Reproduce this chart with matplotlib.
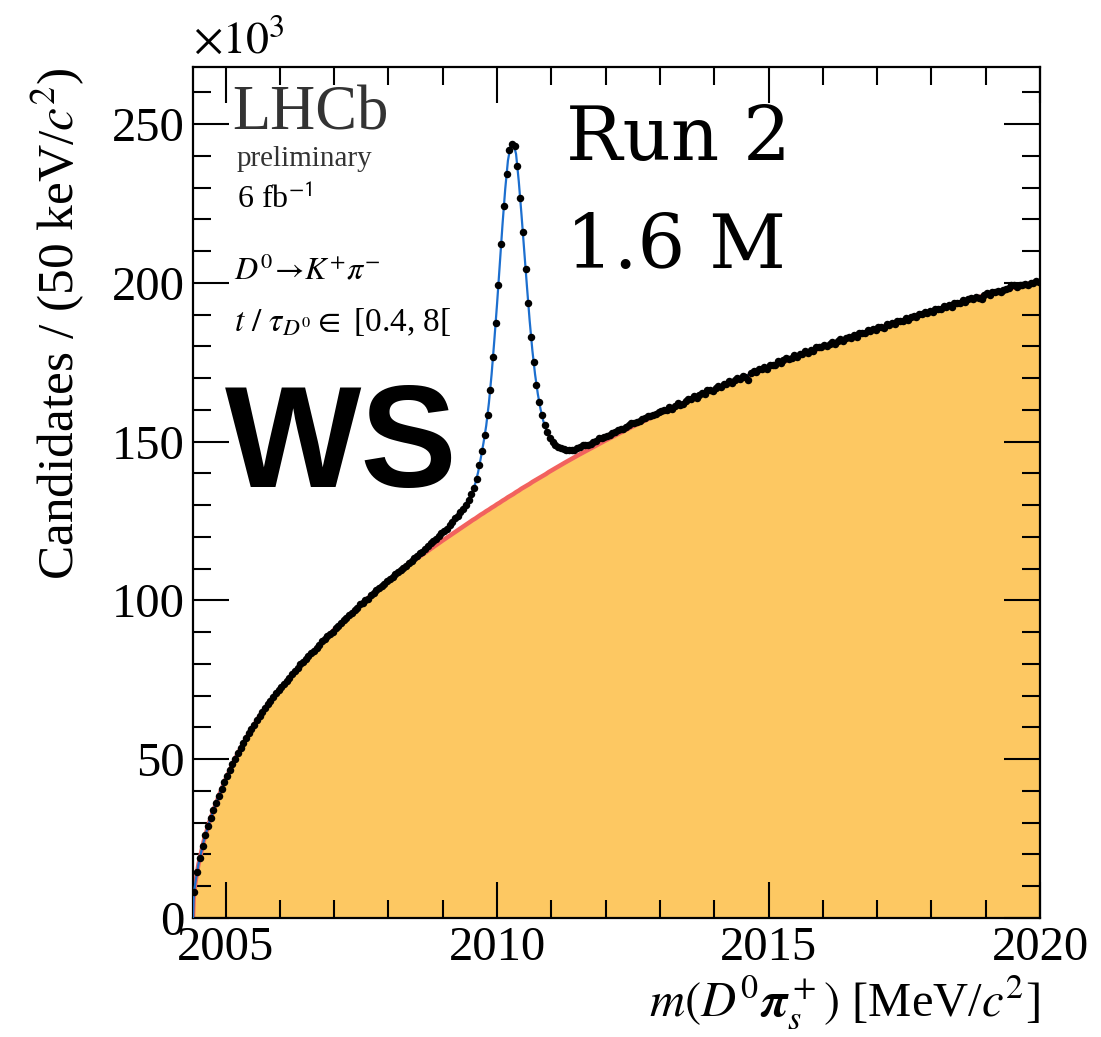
import numpy as np
import matplotlib
matplotlib.use("Agg")
import matplotlib.pyplot as plt
from matplotlib.ticker import MultipleLocator

plt.rcParams['font.family'] = ['Liberation Serif', 'DejaVu Serif']
plt.rcParams['mathtext.fontset'] = 'stix'

# m(D0 pi_s+) histogram, 50 keV bins starting at threshold, counts in units of 10^3
bin_lo = 2004.40
bin_width = 0.05
counts_k = [
    8.3, 14.5, 19.0, 22.8, 26.0, 28.9, 31.5, 33.9, 36.2, 38.4,
    40.6, 42.7, 44.7, 46.6, 48.4, 50.2, 51.9, 53.5, 55.1, 56.6,
    58.1, 59.5, 60.9, 62.3, 63.6, 64.9, 66.1, 67.3, 68.4, 69.5,
    70.8, 71.7, 72.7, 73.7, 74.7, 75.5, 76.7, 77.7, 78.6, 79.9,
    80.5, 81.5, 82.4, 83.3, 84.0, 85.1, 86.0, 87.2, 87.8, 88.7,
    89.5, 90.2, 91.2, 92.0, 92.9, 93.9, 94.5, 95.3, 95.9, 96.9,
    97.7, 98.8, 99.3, 100.0, 100.5, 101.6, 102.3, 103.4, 103.8, 104.6,
    105.1, 106.0, 106.8, 107.5, 108.4, 108.9, 109.6, 110.1, 111.0, 111.7,
    112.5, 113.5, 114.0, 114.8, 115.2, 116.3, 117.1, 118.2, 118.7, 119.5,
    120.3, 121.1, 121.9, 122.5, 123.7, 124.6, 125.9, 126.6, 127.7, 128.9,
    130.2, 131.7, 133.4, 135.5, 138.4, 142.5, 147.2, 152.0, 158.3, 166.4,
    176.6, 187.5, 199.4, 212.2, 224.1, 234.2, 242.0, 243.6, 243.2, 236.7,
    226.7, 216.0, 204.3, 193.8, 183.0, 175.0, 168.0, 162.5, 158.4, 155.2,
    153.0, 151.3, 150.0, 149.1, 148.4, 147.9, 147.8, 147.4, 147.4, 147.5,
    147.4, 147.9, 148.2, 148.8, 148.8, 149.1, 149.3, 149.9, 150.3, 151.0,
    151.1, 151.5, 151.9, 152.0, 152.7, 153.1, 153.8, 153.9, 154.0, 154.7,
    155.1, 155.9, 155.9, 156.3, 156.4, 157.1, 157.5, 158.1, 158.2, 158.5,
    158.6, 159.2, 159.6, 160.0, 159.9, 160.9, 160.4, 161.3, 162.2, 161.7,
    161.8, 162.9, 163.5, 163.4, 164.5, 163.6, 164.6, 165.2, 164.9, 166.2,
    166.2, 165.9, 166.9, 167.5, 167.1, 168.1, 168.1, 169.0, 168.6, 169.4,
    170.0, 169.7, 170.7, 170.3, 169.5, 171.6, 172.1, 171.8, 172.9, 172.8,
    173.4, 173.0, 174.2, 174.3, 174.2, 175.4, 174.8, 175.7, 176.3, 175.9,
    176.5, 177.2, 176.6, 177.7, 177.7, 178.5, 178.0, 178.8, 178.5, 179.7,
    179.7, 179.7, 180.5, 180.2, 180.9, 181.3, 180.8, 181.7, 182.3, 181.8,
    182.5, 183.1, 182.8, 183.6, 183.1, 184.2, 184.2, 184.1, 185.2, 185.0,
    185.5, 185.2, 186.1, 186.2, 185.9, 187.0, 186.8, 187.4, 187.0, 188.0,
    188.1, 188.0, 189.0, 188.4, 189.2, 189.7, 189.2, 190.1, 190.1, 190.9,
    190.4, 191.2, 190.8, 191.8, 191.8, 191.7, 192.7, 192.5, 193.0, 192.5,
    193.7, 193.7, 193.6, 194.5, 194.0, 194.8, 195.4, 194.8, 195.7, 195.2,
    194.8, 196.2, 196.7, 196.3, 197.2, 197.1, 197.6, 197.1, 197.9, 198.1,
    198.5, 199.2, 199.4, 198.6, 199.3, 199.2, 199.8, 199.3, 200.1, 199.9,
    200.5, 200.3,
]

# fit model sampled along the mass axis (units of 10^3)
fit_mass = [
    2004.40, 2004.41, 2004.425, 2004.45, 2004.50, 2004.60, 2004.70, 2004.80,
    2004.90, 2005.00, 2005.20, 2005.40, 2005.60, 2005.80, 2006.00, 2006.50,
    2007.00, 2007.50, 2008.00, 2008.50, 2009.00, 2009.25, 2009.50,
    2009.55, 2009.60, 2009.65, 2009.70, 2009.75, 2009.80, 2009.85, 2009.90,
    2009.95, 2010.00, 2010.05, 2010.10, 2010.15, 2010.20, 2010.25, 2010.30,
    2010.35, 2010.40, 2010.45, 2010.50, 2010.55, 2010.60, 2010.65, 2010.70,
    2010.75, 2010.80, 2010.85, 2010.90, 2010.95, 2011.00,
    2011.10, 2011.25, 2011.50, 2011.75, 2012.00, 2012.50, 2013.00, 2013.50,
    2014.00, 2014.50, 2015.00, 2015.50, 2016.00, 2016.50, 2017.00, 2017.50,
    2018.00, 2018.50, 2019.00, 2019.50, 2020.00,
]
fit_bkg = [
    0.0, 5.7, 8.9, 11.8, 16.9, 24.4, 30.2, 35.0,
    39.5, 43.7, 51.0, 57.3, 62.9, 67.8, 72.2, 81.9,
    90.8, 98.9, 106.4, 112.9, 118.9, 121.8, 124.7,
    125.3, 125.8, 126.4, 127.0, 127.5, 128.1, 128.6, 129.2,
    129.7, 130.3, 130.8, 131.4, 131.9, 132.5, 133.0, 133.5,
    134.1, 134.6, 135.2, 135.7, 136.2, 136.7, 137.3, 137.8,
    138.3, 138.8, 139.3, 139.8, 140.4, 140.9,
    141.9, 143.4, 145.8, 148.1, 150.4, 154.8, 158.9, 162.7,
    166.4, 169.9, 173.3, 176.6, 179.7, 182.7, 185.6, 188.4,
    191.1, 193.7, 196.2, 198.5, 200.6,
]
fit_total = [
    0.0, 5.7, 8.9, 11.8, 16.9, 24.4, 30.2, 35.0,
    39.5, 43.7, 51.0, 57.3, 62.9, 67.8, 72.2, 81.9,
    90.8, 98.9, 106.5, 113.6, 121.5, 126.1, 132.5,
    134.4, 136.9, 140.3, 144.8, 149.6, 155.0, 162.2, 171.3,
    182.0, 193.4, 205.8, 218.3, 229.5, 238.5, 243.3, 244.0,
    240.6, 232.0, 221.5, 210.2, 199.0, 188.2, 178.8, 171.2,
    165.1, 160.3, 156.6, 154.0, 152.1, 150.6,
    148.7, 147.5, 147.8, 149.7, 151.7, 155.7, 159.4, 162.9,
    166.6, 170.1, 173.6, 176.9, 179.9, 182.8, 185.7, 188.4,
    191.1, 193.7, 196.2, 198.5, 200.6,
]

bin_centers = bin_lo + bin_width * (np.arange(len(counts_k)) + 0.5)

fig = plt.figure(figsize=(11.01, 10.37), dpi=100)
ax = fig.add_axes([0.1753, 0.1148, 0.7693, 0.8206])

ax.fill_between(fit_mass, 0, fit_bkg, color='#fdc862', lw=0, zorder=1)
ax.plot(fit_mass, fit_bkg, color='#f2625e', lw=3.2, zorder=2)
ax.plot(fit_mass, fit_total, color='#1c6fcf', lw=1.6, zorder=3)
ax.plot(bin_centers, counts_k, 'o', color='black', ms=5.4, mew=0, zorder=4)

ax.set_xlim(2004.4, 2020)
ax.set_ylim(0, 268)

ax.xaxis.set_major_locator(MultipleLocator(5))
ax.xaxis.set_minor_locator(MultipleLocator(1))
ax.yaxis.set_major_locator(MultipleLocator(50))
ax.yaxis.set_minor_locator(MultipleLocator(10))
ax.tick_params(which='both', direction='in', top=True, right=True,
               labelsize=35, width=1.5, pad=6)
ax.tick_params(which='major', length=26)
ax.tick_params(which='minor', length=13)
for s in ax.spines.values():
    s.set_linewidth(1.6)

ax.set_xlabel(r'$m(D^0\boldsymbol{\pi}_s^+)$ [MeV/$c^2$]', fontsize=35, loc='right', labelpad=2)
ax.set_ylabel(r'Candidates / (50 keV/$c^2$)', fontsize=37, loc='top', labelpad=18)
ax.text(0.0, 1.005, r'$\times10^3$', transform=ax.transAxes, fontsize=33,
        ha='left', va='bottom')

# LHCb labels
ax.text(0.046, 0.927, 'LHCb', transform=ax.transAxes, fontsize=45, color='#333333')
ax.text(0.052, 0.884, 'preliminary', transform=ax.transAxes, fontsize=21, color='#333333')
ax.text(0.052, 0.834, r'6 fb$^{\mathsf{-1}}$', transform=ax.transAxes, fontsize=23)
ax.text(0.048, 0.750, r'$D^0\!\rightarrow\! K^{+}\pi^{-}$', transform=ax.transAxes, fontsize=23)
ax.text(0.048, 0.690, r'$t\ /\ \tau_{D^0} \in$ [0.4, 8[', transform=ax.transAxes, fontsize=24)

ax.text(0.038, 0.507, 'WS', transform=ax.transAxes, fontsize=104, fontweight='bold',
        family='Liberation Sans')
ax.text(0.440, 0.891, 'Run 2', transform=ax.transAxes, fontsize=54, family='DejaVu Serif')
ax.text(0.440, 0.764, '1.6 M', transform=ax.transAxes, fontsize=54, family='DejaVu Serif')

fig.savefig('out.png', dpi=100)
